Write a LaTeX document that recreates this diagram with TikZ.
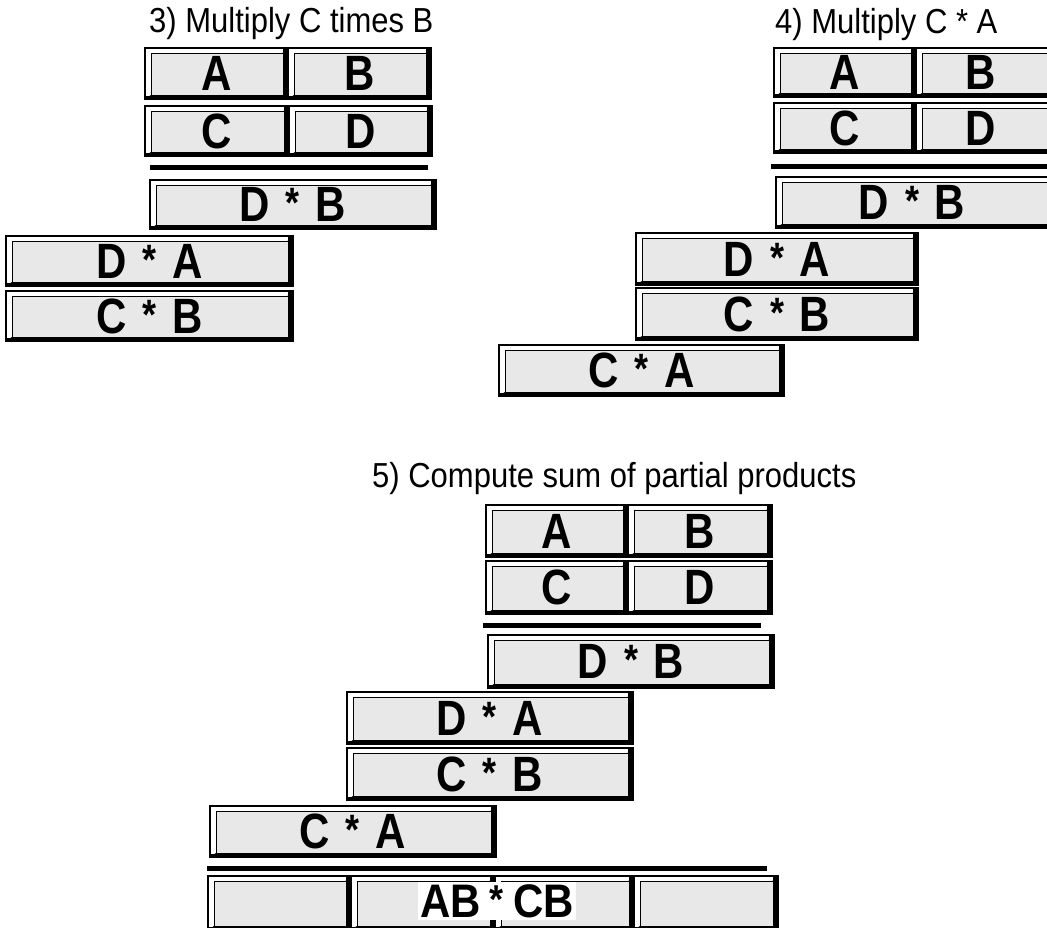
\documentclass[tikz,border=0pt]{standalone}
\usepackage{fontspec}
\setmainfont{Liberation Sans}
\definecolor{boxgray}{HTML}{E8E8E8}
\newcommand\ssp{\hspace{0.38em}}
\newcommand\myast{\raisebox{0.08em}{\fontsize{36}{36}\selectfont *}}
\tikzset{
  bevel/.style={draw=black, line width=1.5pt, fill=white, inner sep=0pt, outer sep=0pt,
    path picture={
      \fill[black] ([xshift=-5pt]path picture bounding box.north east) rectangle (path picture bounding box.south east);
      \fill[black] ([yshift=3.5pt]path picture bounding box.south west) rectangle (path picture bounding box.south east);
      \filldraw[fill=boxgray, draw=black, line width=1pt] ([shift={(6pt,-5pt)}]path picture bounding box.north west) rectangle ([shift={(-5pt,3.5pt)}]path picture bounding box.south east);
      \draw[line width=0.8pt] (path picture bounding box.north east) -- ([shift={(-5pt,-5pt)}]path picture bounding box.north east);
      \draw[line width=0.8pt] (path picture bounding box.south west) -- ([shift={(6pt,3.5pt)}]path picture bounding box.south west);
    }},
  lbl/.style={font=\bfseries\fontsize{42}{42}\selectfont},
  ttl/.style={font=\fontsize{31}{31}\selectfont, anchor=base west, inner sep=0pt},
  rulebar/.style={line width=5pt},
}
\newcommand\pbox[6]{\node[bevel, lbl, minimum width={(#4-#2)*1pt}, minimum height={(#5-#3)*1pt}] (#1) at ({(#2+#4)/2},{(#3+#5)/2}) {\scalebox{1}[1.18]{#6}};}
\newcommand\ttext[1]{\scalebox{1}[1.12]{#1}}
\begin{document}
\begin{tikzpicture}[x=1pt,y=-1pt]
\useasboundingbox (0,0) rectangle (1047,927);
\clip (0,0) rectangle (1047,927);
% ---- panel 3
\node[ttl] (t3) at (149,32) {\ttext{3) Multiply C times B}};
\pbox{A3}{145}{48}{288}{99}{A}
\pbox{B3}{288}{48}{431}{99}{B}
\pbox{C3}{145}{106}{289}{156}{C}
\pbox{D3}{289}{106}{432}{156}{D}
\coordinate (l3a) at (150,167.5); \coordinate (l3b) at (428,167.5);
\draw[rulebar] (l3a) -- (l3b);
\pbox{DB3}{150}{180}{436}{229}{D\ssp\myast\ssp B}
\pbox{DA3}{6}{236}{293}{286}{D\ssp\myast\ssp A}
\pbox{CB3}{6}{291}{293}{341}{C\ssp\myast\ssp B}
% ---- panel 4
\node[ttl] (t4) at (775,33) {\ttext{4) Multiply C * A}};
\pbox{A4}{774}{48}{916}{97}{A}
\pbox{B4}{916}{48}{1060}{97}{\hspace{-14pt}B}
\pbox{C4}{774}{103}{916}{153}{C}
\pbox{D4}{916}{103}{1060}{153}{\hspace{-14pt}D}
\coordinate (l4a) at (771,166); \coordinate (l4b) at (1047,166);
\draw[rulebar] (l4a) -- (l4b);
\pbox{DB4}{776}{177}{1062}{228}{\hspace{-14pt}D\ssp\myast\ssp B}
\pbox{DA4}{636}{233}{918}{285}{D\ssp\myast\ssp A}
\pbox{CB4}{636}{288}{918}{340}{C\ssp\myast\ssp B}
\pbox{CA4}{499}{345}{784}{396}{C\ssp\myast\ssp A}
% ---- panel 5
\node[ttl] (t5) at (372,487) {\ttext{5) Compute sum of partial products}};
\pbox{A5}{486}{505}{628}{557}{A}
\pbox{B5}{628}{505}{772}{557}{B}
\pbox{C5}{486}{561}{628}{614}{C}
\pbox{D5}{628}{561}{772}{614}{D}
\coordinate (l5a) at (483,625.5); \coordinate (l5b) at (761,625.5);
\draw[rulebar] (l5a) -- (l5b);
\pbox{DB5}{488}{635}{774}{688}{D\ssp\myast\ssp B}
\pbox{DA5}{347}{692}{633}{744}{D\ssp\myast\ssp A}
\pbox{CB5}{347}{748}{633}{800}{C\ssp\myast\ssp B}
\pbox{CA5}{210}{806}{496}{857}{C\ssp\myast\ssp A}
\coordinate (l6a) at (207,868.5); \coordinate (l6b) at (767,868.5);
\draw[rulebar] (l6a) -- (l6b);
\pbox{S1}{208}{876}{351}{930}{}
\pbox{S2}{351}{876}{495}{930}{}
\pbox{S3}{495}{876}{634}{930}{}
\pbox{S4}{634}{876}{778}{930}{}
\node[fill=white, lbl, inner sep=2pt] (sum) at (497,901) {\scalebox{1}[1.12]{AB\hspace{0.22em}\myast\hspace{0.22em}CB}};
\end{tikzpicture}
\end{document}
